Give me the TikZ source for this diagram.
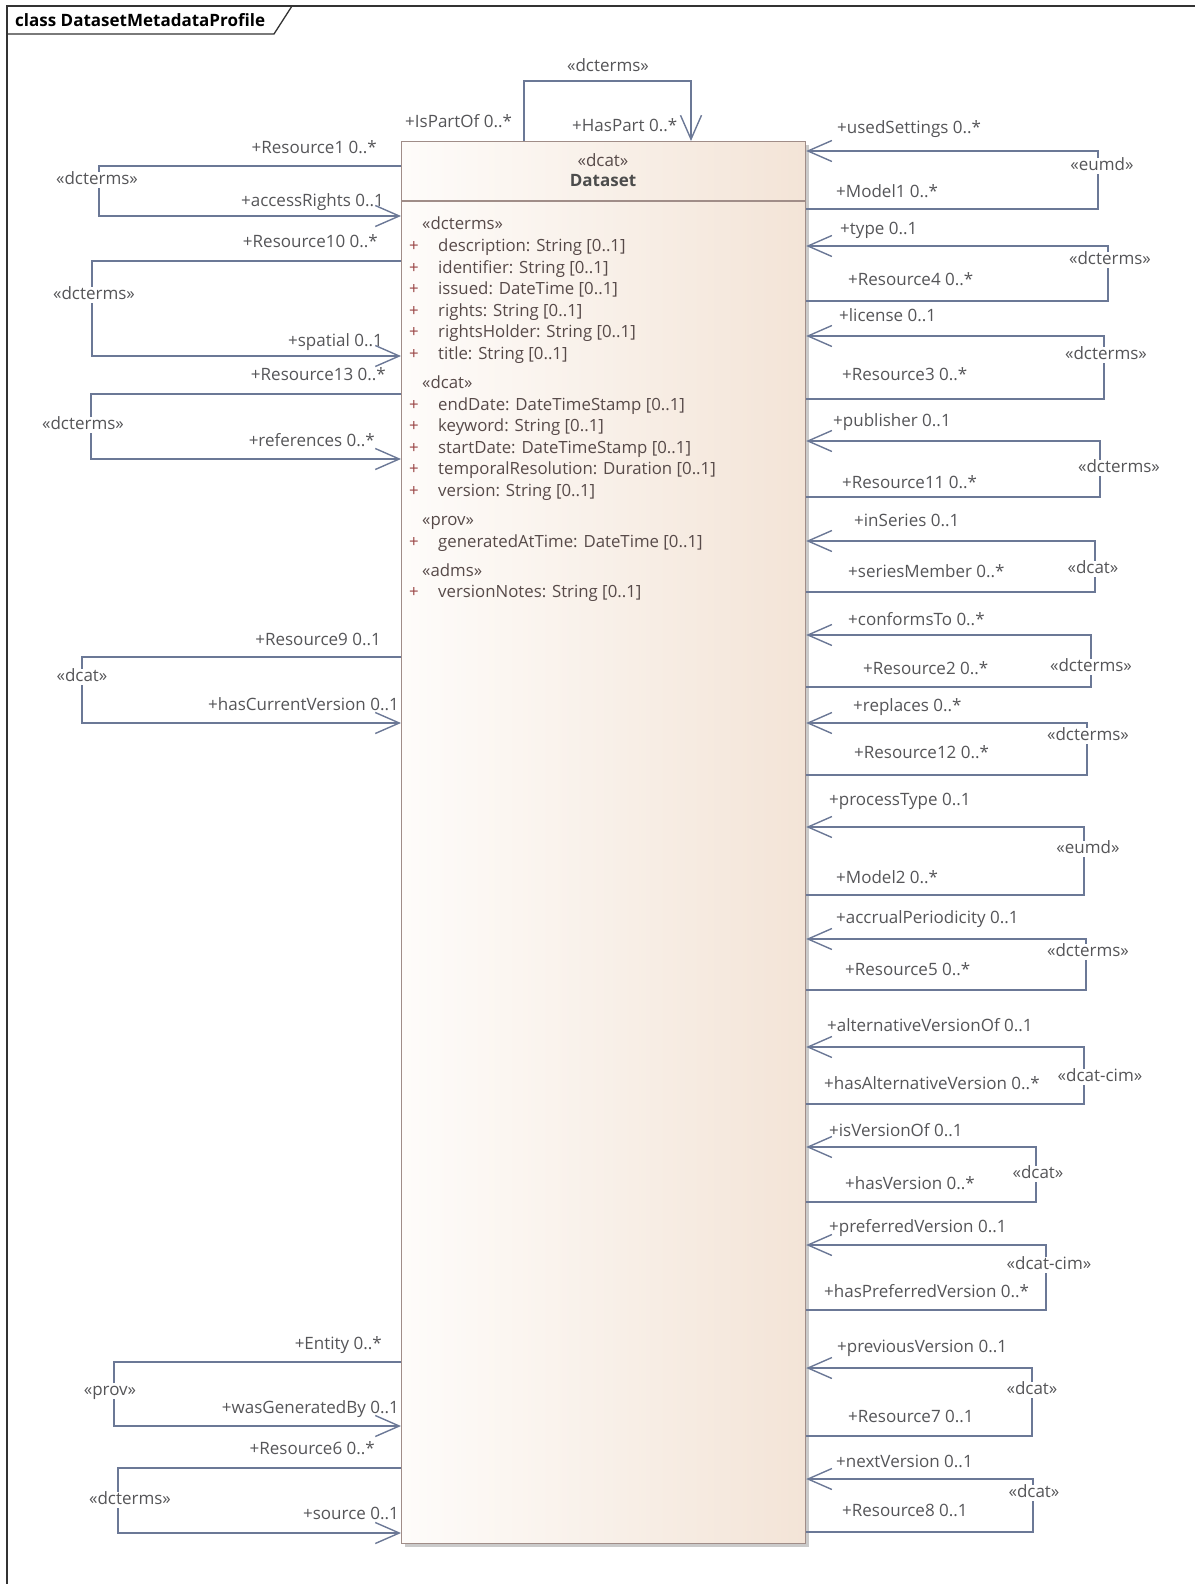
\documentclass[tikz,border=0pt]{standalone}
\usepackage{fontspec}
\setmainfont{Open Sans}
\usepackage{tikz}
\usetikzlibrary{arrows.meta,positioning,shadows}
\definecolor{AssocBlue}{HTML}{6B7896}
\definecolor{BoxBorder}{HTML}{A08D88}
\definecolor{BoxLeft}{HTML}{FEFCFA}
\definecolor{BoxRight}{HTML}{F3E4D7}
\definecolor{LabelGrey}{HTML}{555558}
\definecolor{AttrText}{HTML}{574A49}
\definecolor{PlusRed}{HTML}{9A4545}
\newcommand{\pls}{\makebox[29pt][l]{\textcolor{PlusRed}{+}}}
\tikzset{
  % class box
  classbox/.style={rectangle,draw=BoxBorder,line width=1.2pt,
                   left color=BoxLeft,right color=BoxRight,
                   drop shadow={shadow xshift=3.5pt,shadow yshift=-3.5pt,
                                fill=black!35,opacity=.6},
                   inner sep=0pt},
  % associations
  assoc/.style={draw=AssocBlue,line width=1.4pt},
  navend/.style={assoc,-{Straight Barb[length=24pt,width=21pt]}},
  navstart/.style={assoc,{Straight Barb[length=24pt,width=21pt]}-},
  % label styles
  role/.style={font=\fontsize{17}{20}\selectfont,text=LabelGrey,
               inner sep=0pt,text height=12pt,text depth=3.5pt,yshift=-2pt},
  stereo/.style={font=\fontsize{17}{20}\selectfont,text=LabelGrey,
                 text height=12pt,text depth=3.5pt,
                 fill=white,inner xsep=1.5pt,inner ysep=0pt},
  frameline/.style={draw=black!80,line width=1.3pt}
}

\begin{document}
\begin{tikzpicture}[x=1pt,y=-1pt]
  \useasboundingbox (0,0) rectangle (1195,1584);
  % frame
  \node[anchor=west,inner sep=0pt,font=\fontsize{17}{20}\bfseries\selectfont] (title) at (15,20) {class DatasetMetadataProfile};
  \draw[frameline] (7,1584) -- (7,6) -- (1195,6);
  \draw[frameline] (7,34) -- (274,34) -- (292,6);

  % class
  \node[classbox,anchor=north west,minimum width=404pt,minimum height=1402pt] (dataset) at (401,141) {};
  \node[font=\fontsize{17}{20}\selectfont,text=AttrText] (dsstereo) at (603,160) {«dcat»};
  \node[font=\fontsize{17}{20}\bfseries\selectfont,text=black!70] (dsname) at (603,181) {Dataset};
  \draw[draw=BoxBorder,line width=1.2pt] (dataset.west |- 0,201) -- (dataset.east |- 0,201);
  \node[anchor=north west,inner sep=0pt,align=left,text=AttrText,
        font=\fontsize{16.8}{21.6}\selectfont] (attrs) at (409,217) {%
    \hspace*{13pt}«dcterms»\\
    \pls description: String [0..1]\\
    \pls identifier: String [0..1]\\
    \pls issued: DateTime [0..1]\\
    \pls rights: String [0..1]\\
    \pls rightsHolder: String [0..1]\\
    \pls title: String [0..1]\\[7.4pt]
    \hspace*{13pt}«dcat»\\
    \pls endDate: DateTimeStamp [0..1]\\
    \pls keyword: String [0..1]\\
    \pls startDate: DateTimeStamp [0..1]\\
    \pls temporalResolution: Duration [0..1]\\
    \pls version: String [0..1]\\[7.4pt]
    \hspace*{13pt}«prov»\\
    \pls generatedAtTime: DateTime [0..1]\\[7.4pt]
    \hspace*{13pt}«adms»\\
    \pls versionNotes: String [0..1]};

  % top self association
  \draw[navend] (dataset.north -| 524,0) |- (691,81) -- (dataset.north -| 691,0);
  \node[stereo] (stTop) at (608,67) {«dcterms»};
  \node[role,anchor=west] (ispartof) at (405,121) {+IsPartOf 0..*};
  \node[role,anchor=west] (haspart) at (572,125) {+HasPart 0..*};

  % left self associations
  \draw[navend] (dataset.west |- 0,166) -| (99,216) -- (dataset.west |- 0,216);
  \draw[navend] (dataset.west |- 0,261) -| (92,356) -- (dataset.west |- 0,356);
  \draw[navend] (dataset.west |- 0,394) -| (91,459) -- (dataset.west |- 0,459);
  \draw[navend] (dataset.west |- 0,657) -| (82,723) -- (dataset.west |- 0,723);
  \draw[navend] (dataset.west |- 0,1362) -| (114,1426) -- (dataset.west |- 0,1426);
  \draw[navend] (dataset.west |- 0,1468) -| (118,1533) -- (dataset.west |- 0,1533);

  \node[stereo] (stL1) at (97,180) {«dcterms»};
  \node[role,anchor=east] (res1) at (377,147) {+Resource1 0..*};
  \node[role,anchor=east] (accr) at (384,200) {+accessRights 0..1};
  \node[stereo] (stL2) at (94,295) {«dcterms»};
  \node[role,anchor=east] (res10) at (378,241) {+Resource10 0..*};
  \node[role,anchor=east] (spat) at (383,340) {+spatial 0..1};
  \node[stereo] (stL3) at (83,425) {«dcterms»};
  \node[role,anchor=east] (res13) at (386,374) {+Resource13 0..*};
  \node[role,anchor=east] (refs) at (375,440) {+references 0..*};
  \node[stereo] (stL4) at (82,677) {«dcat»};
  \node[role,anchor=east] (res9) at (381,639) {+Resource9 0..1};
  \node[role,anchor=east] (hascur) at (399,704) {+hasCurrentVersion 0..1};
  \node[stereo] (stL5) at (110,1391) {«prov»};
  \node[role,anchor=east] (entity) at (382,1343) {+Entity 0..*};
  \node[role,anchor=east] (wasgen) at (399,1407) {+wasGeneratedBy 0..1};
  \node[stereo] (stL6) at (130,1500) {«dcterms»};
  \node[role,anchor=east] (res6) at (375,1448) {+Resource6 0..*};
  \node[role,anchor=east] (source) at (399,1513) {+source 0..1};

  % right self associations
  \draw[navstart] (dataset.east |- 0,151) -| (1098,209) -- (dataset.east |- 0,209);
  \draw[navstart] (dataset.east |- 0,246) -| (1108,301) -- (dataset.east |- 0,301);
  \draw[navstart] (dataset.east |- 0,336) -| (1104,399) -- (dataset.east |- 0,399);
  \draw[navstart] (dataset.east |- 0,441) -| (1100,497) -- (dataset.east |- 0,497);
  \draw[navstart] (dataset.east |- 0,541) -| (1095,592) -- (dataset.east |- 0,592);
  \draw[navstart] (dataset.east |- 0,635) -| (1091,687) -- (dataset.east |- 0,687);
  \draw[navstart] (dataset.east |- 0,723) -| (1087,775) -- (dataset.east |- 0,775);
  \draw[navstart] (dataset.east |- 0,827) -| (1084,895) -- (dataset.east |- 0,895);
  \draw[navstart] (dataset.east |- 0,939) -| (1086,990) -- (dataset.east |- 0,990);
  \draw[navstart] (dataset.east |- 0,1047) -| (1084,1104) -- (dataset.east |- 0,1104);
  \draw[navstart] (dataset.east |- 0,1147) -| (1036,1202) -- (dataset.east |- 0,1202);
  \draw[navstart] (dataset.east |- 0,1245) -| (1046,1310) -- (dataset.east |- 0,1310);
  \draw[navstart] (dataset.east |- 0,1368) -| (1032,1436) -- (dataset.east |- 0,1436);
  \draw[navstart] (dataset.east |- 0,1479) -| (1033,1532) -- (dataset.east |- 0,1532);

  \node[stereo] (stR1) at (1102,166) {«eumd»};
  \node[role,anchor=west] (used) at (837,127) {+usedSettings 0..*};
  \node[role,anchor=west] (model1) at (836,191) {+Model1 0..*};
  \node[stereo] (stR2) at (1110,260) {«dcterms»};
  \node[role,anchor=west] (type) at (840,228) {+type 0..1};
  \node[role,anchor=west] (res4) at (848,279) {+Resource4 0..*};
  \node[stereo] (stR3) at (1106,355) {«dcterms»};
  \node[role,anchor=west] (license) at (839,315) {+license 0..1};
  \node[role,anchor=west] (res3) at (842,374) {+Resource3 0..*};
  \node[stereo] (stR4) at (1119,468) {«dcterms»};
  \node[role,anchor=west] (publ) at (833,420) {+publisher 0..1};
  \node[role,anchor=west] (res11) at (842,482) {+Resource11 0..*};
  \node[stereo] (stR5) at (1093,569) {«dcat»};
  \node[role,anchor=west] (inser) at (854,520) {+inSeries 0..1};
  \node[role,anchor=west] (sermem) at (848,571) {+seriesMember 0..*};
  \node[stereo] (stR6) at (1091,667) {«dcterms»};
  \node[role,anchor=west] (conf) at (848,619) {+conformsTo 0..*};
  \node[role,anchor=west] (res2) at (863,668) {+Resource2 0..*};
  \node[stereo] (stR7) at (1088,736) {«dcterms»};
  \node[role,anchor=west] (repl) at (853,705) {+replaces 0..*};
  \node[role,anchor=west] (res12) at (854,752) {+Resource12 0..*};
  \node[stereo] (stR8) at (1088,849) {«eumd»};
  \node[role,anchor=west] (proc) at (829,799) {+processType 0..1};
  \node[role,anchor=west] (model2) at (836,877) {+Model2 0..*};
  \node[stereo] (stR9) at (1088,952) {«dcterms»};
  \node[role,anchor=west] (accrual) at (836,917) {+accrualPeriodicity 0..1};
  \node[role,anchor=west] (res5) at (845,969) {+Resource5 0..*};
  \node[stereo] (stR10) at (1100,1077) {«dcat-cim»};
  \node[role,anchor=west] (altof) at (827,1025) {+alternativeVersionOf 0..1};
  \node[role,anchor=west] (hasalt) at (824,1083) {+hasAlternativeVersion 0..*};
  \node[stereo] (stR11) at (1038,1174) {«dcat»};
  \node[role,anchor=west] (isver) at (829,1130) {+isVersionOf 0..1};
  \node[role,anchor=west] (hasver) at (845,1183) {+hasVersion 0..*};
  \node[stereo] (stR12) at (1049,1265) {«dcat-cim»};
  \node[role,anchor=west] (pref) at (829,1226) {+preferredVersion 0..1};
  \node[role,anchor=west] (haspref) at (824,1291) {+hasPreferredVersion 0..*};
  \node[stereo] (stR13) at (1032,1390) {«dcat»};
  \node[role,anchor=west] (prev) at (837,1346) {+previousVersion 0..1};
  \node[role,anchor=west] (res7) at (848,1416) {+Resource7 0..1};
  \node[stereo] (stR14) at (1034,1493) {«dcat»};
  \node[role,anchor=west] (next) at (836,1461) {+nextVersion 0..1};
  \node[role,anchor=west] (res8) at (842,1510) {+Resource8 0..1};
\end{tikzpicture}
\end{document}
